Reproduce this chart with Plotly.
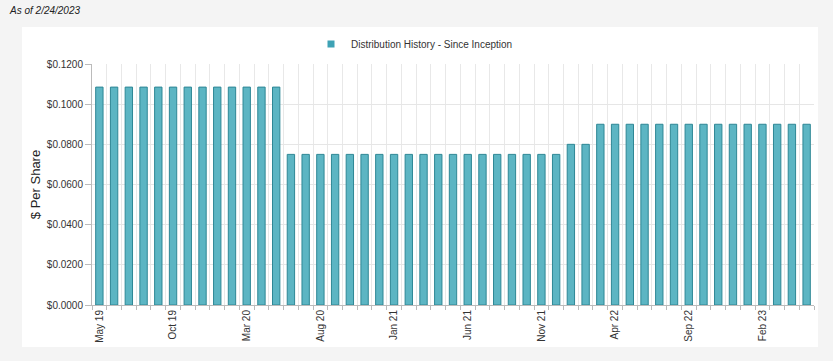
import plotly.graph_objects as go

months = [
    "May 19", "Jun 19", "Jul 19", "Aug 19", "Sep 19", "Oct 19", "Nov 19", "Dec 19",
    "Jan 20", "Feb 20", "Mar 20", "Apr 20", "May 20", "Jun 20", "Jul 20", "Aug 20",
    "Sep 20", "Oct 20", "Nov 20", "Dec 20", "Jan 21", "Feb 21", "Mar 21", "Apr 21",
    "May 21", "Jun 21", "Jul 21", "Aug 21", "Sep 21", "Oct 21", "Nov 21", "Dec 21",
    "Jan 22", "Feb 22", "Mar 22", "Apr 22", "May 22", "Jun 22", "Jul 22", "Aug 22",
    "Sep 22", "Oct 22", "Nov 22", "Dec 22", "Jan 23", "Feb 23", "Mar 23", "Apr 23",
    "May 23",
]
distributions = (
    [0.1085] * 13
    + [0.075] * 19
    + [0.080] * 2
    + [0.090] * 15
)
shown_labels = ["May 19", "Oct 19", "Mar 20", "Aug 20", "Jan 21", "Jun 21",
                "Nov 21", "Apr 22", "Sep 22", "Feb 23"]
tick_text = [m if m in shown_labels else "" for m in months]
y_ticks = [0, 0.02, 0.04, 0.06, 0.08, 0.10, 0.12]
series_name = "Distribution History - Since Inception"

W, H = 833, 361
L, R, T, B = 92, 19, 64, 56
pw, ph = W - L - R, H - T - B

def px(x):
    return (x - L) / pw

def py(y):
    return (H - B - y) / ph

fig = go.Figure()
fig.add_trace(go.Bar(
    x=months, y=distributions,
    name=series_name, showlegend=False,
    marker=dict(color="#5cb5c3", line=dict(color="#2e8795", width=1)),
))
# legend entry (small solid square like the original)
fig.add_trace(go.Scatter(
    x=[None], y=[None], mode="markers", name=series_name,
    marker=dict(symbol="square", size=7, color="#3ea2b5"),
    showlegend=True, hoverinfo="skip",
))

fig.update_layout(
    width=W, height=H,
    margin=dict(l=L, r=R, t=T, b=B, autoexpand=False),
    paper_bgcolor="#f4f4f4",
    plot_bgcolor="#ffffff",
    bargap=0.5,
    font=dict(family="Liberation Sans, Arial, sans-serif", color="#333333", size=10),
    showlegend=True,
    legend=dict(
        orientation="h", xref="paper", x=px(311), xanchor="left",
        yref="paper", y=py(44), yanchor="middle",
        font=dict(size=10, color="#333333"), bgcolor="rgba(0,0,0,0)",
    ),
    shapes=[dict(
        type="rect", xref="paper", yref="paper",
        x0=px(22), x1=px(818), y0=py(347), y1=py(27),
        fillcolor="#ffffff", line=dict(width=0), layer="below",
    )],
    annotations=[dict(
        text="<i>As of 2/24/2023</i>", xref="paper", yref="paper",
        x=px(7), y=py(11), xanchor="left", yanchor="middle",
        showarrow=False, font=dict(size=10, color="#222222"),
    )],
)

fig.update_xaxes(
    type="category",
    tickmode="array", tickvals=months, ticktext=tick_text,
    tickson="boundaries", ticks="outside", ticklen=4, tickcolor="#bbbbbb",
    tickangle=-90, tickfont=dict(size=10, color="#333333"),
    showgrid=True, gridcolor="#e8e8e8", gridwidth=1,
    showline=True, linecolor="#bbbbbb", linewidth=1,
    range=[-0.5, len(months) - 0.5],
)
fig.update_yaxes(
    range=[0, 0.12], tickvals=y_ticks, tickformat="$.4f",
    ticks="outside", ticklen=6, tickcolor="#bbbbbb",
    tickfont=dict(size=10, color="#333333"),
    showgrid=True, gridcolor="#e6e6e6", gridwidth=1,
    showline=True, linecolor="#bbbbbb", linewidth=1,
    zeroline=False,
    title=dict(text="$ Per Share", font=dict(size=13, color="#222222"), standoff=3),
)

fig.write_html("out.html", config={"displayModeBar": False},
               post_script="document.body.style.margin='0px';")
